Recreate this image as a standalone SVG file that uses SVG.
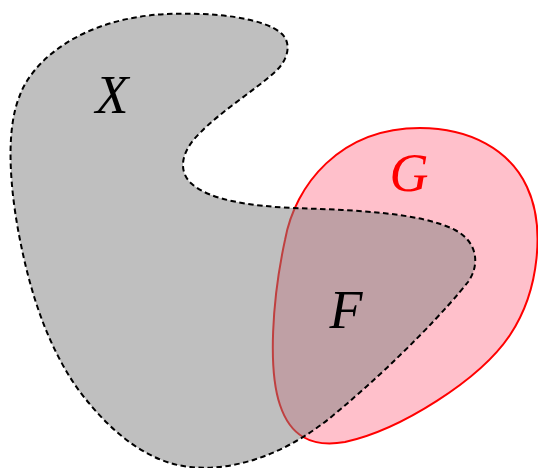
<svg xmlns="http://www.w3.org/2000/svg" width="538" height="468" viewBox="0 0 538 468">
<style>
.lbl{font-family:"Liberation Serif","DejaVu Serif",serif;font-style:italic;font-size:54px;text-anchor:middle}
</style>
<rect width="538" height="468" fill="#ffffff"/>
<g id="G">
<path d="M420,128 C470,128 510,150 527,187 C545,225 540,290 510,335 C480,380 400,430 345,442 C310,448 290,435 280,405 C268,370 272,300 285,240 C295,185 340,128 420,128 Z" fill="#ffc0cb" stroke="#ff0000" stroke-width="2"/>
<text class="lbl" x="409" y="191" fill="#ff0000">G</text>
</g>
<g id="X">
<path d="M167,14 C215,12 265,18 282,34 C292,44 288,60 275,72 C255,90 220,112 200,133 C180,152 178,172 192,184 C210,200 250,206 293,208 C350,210 420,212 455,230 C478,242 480,265 468,282 C450,305 400,360 330,418 C290,450 240,472 190,467 C140,462 100,420 75,385 C45,340 30,290 20,240 C10,190 5,130 20,95 C32,62 80,18 167,14 Z" fill="#808080" fill-opacity="0.5" stroke="#000000" stroke-width="2" stroke-dasharray="5.5 3.5"/>
<text class="lbl" x="112" y="113" fill="#000000">X</text>
</g>
<g id="F">
<text class="lbl" x="346" y="328" fill="#000000">F</text>
</g>
</svg>
